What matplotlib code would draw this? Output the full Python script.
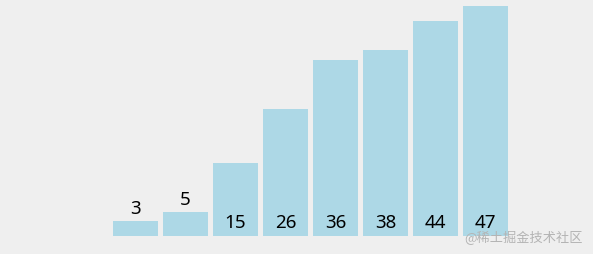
import matplotlib
matplotlib.use("Agg")
import matplotlib.pyplot as plt

values = [3, 5, 15, 26, 36, 38, 44, 47]
labels = [str(v) for v in values]
watermark = "@稀土掘金技术社区"

plt.rcParams['font.family'] = ['Noto Sans CJK SC', 'DejaVu Sans']

W, H = 593, 255
fig = plt.figure(figsize=(W / 100, H / 100), dpi=100)
fig.patch.set_facecolor('#efefef')
ax = fig.add_axes([0, 18 / H, 1, 237 / H])
ax.set_facecolor('#efefef')
scale = 230 / 47.0
ax.set_ylim(0, 237 / scale)
ax.set_xlim(-135.5 / 50, (W - 135.5) / 50)
x = list(range(len(values)))
ax.bar(x, values, width=0.9, color='#add8e6')
for xi, v, t in zip(x, values, labels):
    if v * scale > 30:
        y = 9 / scale
    else:
        y = v + 8 / scale
    ax.text(xi, y, t, ha='center', va='baseline', fontsize=13.5,
            color='black', family=['Noto Sans', 'Noto Sans CJK SC'])
ax.axis('off')
fig.text(583 / W, 1 - 238 / H, watermark, ha='right', va='center',
         fontsize=9.5, color='#b4b4b4')
fig.savefig('out.png', dpi=100, facecolor=fig.get_facecolor())
